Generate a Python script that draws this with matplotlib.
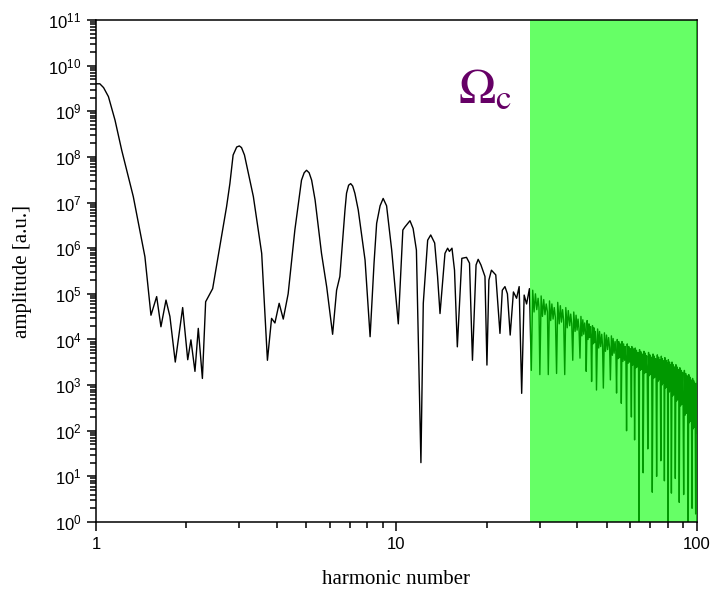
import matplotlib

matplotlib.use("Agg")
import matplotlib.pyplot as plt
from matplotlib.ticker import FuncFormatter, LogLocator, NullFormatter

plt.rcParams["font.family"] = ["Liberation Sans", "DejaVu Sans"]
plt.rcParams["mathtext.fontset"] = "stix"

# spectrum below the cut-off
LOW_H = [1.0, 1.03, 1.06, 1.10, 1.157, 1.218, 1.331, 1.455, 1.524, 1.592,
         1.645, 1.71, 1.762, 1.836, 1.943, 2.02, 2.07, 2.135, 2.19, 2.26,
         2.317, 2.445, 2.72, 2.79, 2.86, 2.94, 3.0, 3.05, 3.12, 3.2,
         3.34, 3.56, 3.72, 3.84, 3.94, 4.07, 4.20, 4.36, 4.59, 4.83,
         4.93, 5.02, 5.12, 5.22, 5.36, 5.63, 5.86, 6.13, 6.32, 6.48,
         6.74, 6.82, 6.93, 7.04, 7.15, 7.27, 7.46, 7.86, 8.17, 8.42,
         8.59, 8.82, 9.03, 9.27, 9.64, 10.14, 10.5, 10.66, 11.09, 11.36,
         11.65, 12.06, 12.28, 12.7, 13.0, 13.4, 13.7, 13.96, 14.5, 14.8,
         15.0, 15.3, 15.6, 15.94, 16.5, 17.1, 17.5, 17.9, 18.4, 18.7,
         19.1, 19.7, 20.0, 20.3, 20.7, 21.4, 22.1, 22.5, 22.96, 23.4,
         23.9, 24.5, 25.1, 25.6, 26.1, 26.6, 27.1, 27.7]
LOW_AMP = [4.0e9, 4.0e9, 3.3e9, 2.1e9, 6.4e8, 1.4e8, 1.35e7, 6.5e5, 3.4e4, 8.7e4,
           1.9e4, 7.3e4, 3.2e4, 3.2e3, 5.0e4, 3.6e3, 9.8e3, 2.0e3, 1.75e4, 1.4e3,
           6.7e4, 1.3e5, 8.1e6, 2.6e7, 1.1e8, 1.65e8, 1.74e8, 1.6e8, 1.1e8, 5e7,
           1.35e7, 7.7e5, 3.5e3, 2.9e4, 2.3e4, 6.2e4, 2.8e4, 1.0e5, 2.5e6, 3.1e7,
           4.5e7, 5.1e7, 4.5e7, 3.1e7, 1.14e7, 7.7e5, 1.4e5, 1.3e4, 1.2e5, 2.4e5,
           6.9e6, 1.6e7, 2.4e7, 2.6e7, 2.3e7, 1.6e7, 6.9e6, 5.5e5, 1.15e4, 4.7e5,
           3.5e6, 8.5e6, 1.23e7, 8.5e6, 9.1e5, 2.2e4, 2.5e6, 2.9e6, 4.0e6, 2.7e6,
           9.1e5, 20, 6.2e4, 1.5e6, 1.95e6, 1.3e6, 2.4e5, 3.7e4, 7.7e5, 1e6,
           8.5e5, 1e6, 3.3e5, 6.9e3, 6e5, 6.3e5, 4.7e5, 3.5e3, 4.3e5, 5.7e5,
           4.3e5, 2.4e5, 2.75e3, 2e5, 3.3e5, 2.6e5, 1.36e4, 1.2e5, 1.44e5, 1e5,
           1.25e4, 1.1e5, 8e4, 1.44e5, 660, 9.4e4, 6e4, 1.3e5]

# spectrum above the cut-off: one row per trough-to-trough period
HIGH_H = [28.1, 28.4, 28.7, 29.0, 29.3, 29.6, 29.8,
          30.0, 30.3, 30.6, 30.9, 31.2, 31.5, 31.8,
          32.0, 32.3, 32.6, 32.9, 33.2, 33.5, 33.8,
          34.1, 34.4, 34.8, 35.1, 35.4, 35.7, 36.0,
          36.3, 36.6, 37.0, 37.3, 37.7, 38.0, 38.3,
          38.6, 38.9, 39.3, 39.6, 39.9, 40.2, 40.5,
          40.8, 41.1, 41.4, 41.7, 42.0, 42.3, 42.6,
          42.8, 43.1, 43.4, 43.7, 43.9, 44.2, 44.4,
          44.6, 44.9, 45.1, 45.4, 45.6, 45.9, 46.1,
          46.3, 46.7, 47.1, 47.4, 47.8, 48.2, 48.5,
          48.8, 49.2, 49.6, 50.0, 50.4, 50.8, 51.2,
          51.5, 51.9, 52.3, 52.6, 53.0, 53.4, 53.7,
          54.0, 54.3, 54.6, 54.9, 55.2, 55.5, 55.8,
          56.0, 56.3, 56.7, 57.0, 57.4, 57.7, 58.0,
          58.3, 58.6, 59.0, 59.3, 59.6, 59.9, 60.2,
          60.5, 60.7, 60.9, 61.1, 61.4, 61.6, 61.8,
          62.0, 62.3, 62.6, 62.9, 63.3, 63.6, 63.9,
          64.1, 64.4, 64.7, 65.0, 65.4, 65.7, 66.0,
          66.2, 66.6, 66.9, 67.3, 67.6, 68.0, 68.3,
          68.6, 69.0, 69.3, 69.7, 70.0, 70.4, 70.7,
          71.0, 71.4, 71.7, 72.1, 72.4, 72.8, 73.1,
          73.4, 73.8, 74.1, 74.5, 74.8, 75.2, 75.5,
          75.8, 76.1, 76.4, 76.7, 77.1, 77.4, 77.7,
          77.9, 78.2, 78.5, 78.8, 79.2, 79.5, 79.8,
          80.0, 80.3, 80.7, 81.0, 81.3, 81.6, 81.9,
          82.2, 82.6, 83.0, 83.3, 83.7, 84.1, 84.4,
          84.7, 85.1, 85.5, 85.8, 86.2, 86.6, 87.0,
          87.3, 87.7, 88.2, 88.6, 89.1, 89.5, 89.9,
          90.3, 90.8, 91.3, 91.7, 92.2, 92.7, 93.1,
          93.5, 93.9, 94.3, 94.7, 95.1, 95.5, 95.9,
          96.3, 96.7, 97.1, 97.5, 97.9, 98.3, 98.7,
          99.0, 99.4, 99.7, 100.0]
HIGH_AMP = [2.1e3, 1.2e5, 4e4, 1e5, 4.5e4, 8e4, 5e4,
            1.7e3, 9e4, 3.2e4, 7.5e4, 3.5e4, 6e4, 4e4,
            1.7e3, 7e4, 2.6e4, 6e4, 2.8e4, 5e4, 3e4,
            1.8e3, 6.5e4, 2.2e4, 5.5e4, 2.4e4, 4.5e4, 2.6e4,
            1.7e3, 5e4, 1.8e4, 4.3e4, 2e4, 3.6e4, 2.2e4,
            3.5e3, 4e4, 1.5e4, 3.4e4, 1.6e4, 2.8e4, 1.7e4,
            3.9e3, 3.2e4, 1.2e4, 2.7e4, 1.3e4, 2.3e4, 1.4e4,
            2.0e3, 2.6e4, 1e4, 2.2e4, 1.1e4, 1.9e4, 1.2e4,
            1.2e3, 2e4, 8e3, 1.8e4, 8.5e3, 1.5e4, 9e3,
            780, 1.7e4, 6.5e3, 1.5e4, 7e3, 1.3e4, 7.5e3,
            860, 1.4e4, 5.5e3, 1.25e4, 6e3, 1.1e4, 6.5e3,
            1.3e3, 1.2e4, 4.5e3, 1.05e4, 5e3, 9e3, 5.5e3,
            670, 1e4, 3.8e3, 9e3, 4e3, 8e3, 4.4e3,
            400, 9e3, 3.3e3, 8e3, 3.5e3, 7e3, 3.8e3,
            100, 8e3, 3e3, 7e3, 3.2e3, 6.3e3, 3.4e3,
            200, 7e3, 2.7e3, 6.5e3, 2.8e3, 5.8e3, 3e3,
            63, 6.5e3, 2.4e3, 5.8e3, 2.5e3, 5.2e3, 2.7e3,
            0.9, 6e3, 2.1e3, 5.4e3, 2.2e3, 4.8e3, 2.4e3,
            12, 5.5e3, 1.8e3, 5e3, 1.9e3, 4.4e3, 2e3,
            40, 5.2e3, 1.6e3, 4.6e3, 1.7e3, 4.1e3, 1.8e3,
            4.5, 4.8e3, 1.4e3, 4.3e3, 1.5e3, 3.8e3, 1.6e3,
            10, 4.6e3, 1.2e3, 4.1e3, 1.3e3, 3.6e3, 1.4e3,
            22, 4.3e3, 1e3, 3.8e3, 1.1e3, 3.4e3, 1.2e3,
            8, 4e3, 850, 3.5e3, 900, 3.1e3, 1e3,
            0.9, 3.6e3, 700, 3.2e3, 750, 2.8e3, 800,
            4.3, 3.2e3, 580, 2.8e3, 620, 2.5e3, 660,
            9, 2.8e3, 450, 2.5e3, 480, 2.2e3, 520,
            2.7, 2.4e3, 350, 2.1e3, 380, 1.9e3, 400,
            4, 2.1e3, 220, 1.8e3, 240, 1.6e3, 260,
            0.9, 1.7e3, 150, 1.5e3, 160, 1.3e3, 170,
            2, 1.4e3, 110, 1.25e3, 120, 1.1e3, 130,
            1.5, 1.1e3, 90, 900]

CUTOFF = 27.8
X_LIM = (1, 100)
Y_LIM = (1, 1e11)
X_TICKS = [1, 10, 100]

fig = plt.figure(figsize=(7.12, 5.92), dpi=100)
ax = fig.add_axes([0.1348, 0.1182, 0.8441, 0.848])

ax.plot(LOW_H + HIGH_H, LOW_AMP + HIGH_AMP, color="black", lw=1.0, zorder=2)
ax.axvspan(CUTOFF, X_LIM[1], color=(0.0, 1.0, 0.0), alpha=0.6, lw=0, zorder=3)

ax.set_xscale("log")
ax.set_yscale("log")
ax.set_xlim(*X_LIM)
ax.set_ylim(*Y_LIM)

ax.set_xticks(X_TICKS)
ax.xaxis.set_major_formatter(FuncFormatter(lambda v, _: f"{v:g}"))
ax.xaxis.set_minor_locator(LogLocator(base=10, subs=range(2, 10), numticks=10))
ax.xaxis.set_minor_formatter(NullFormatter())
ax.yaxis.set_major_locator(LogLocator(base=10, numticks=15))
ax.yaxis.set_minor_locator(LogLocator(base=10, subs=range(2, 10), numticks=15))
ax.yaxis.set_minor_formatter(NullFormatter())

ax.tick_params(which="both", direction="out", top=False, right=False,
               width=1.1, labelsize=12, pad=4)
ax.tick_params(which="major", length=6.5)
ax.tick_params(which="minor", length=4)

for name in ("top", "bottom", "left"):
    ax.spines[name].set_zorder(4)
for sp in ax.spines.values():
    sp.set_linewidth(1.1)

ax.set_xlabel("harmonic number", family="Liberation Serif", fontsize=15)
ax.set_ylabel("amplitude [a.u.]", family="Liberation Serif", fontsize=15)
ax.xaxis.set_label_coords(0.5, -0.095)
ax.yaxis.set_label_coords(-0.107, 0.5)

ax.text(16.0, 1.6e9, r"$\Omega_\mathrm{c}$", color="#660066", fontsize=36,
        ha="left", va="baseline", zorder=5)

fig.savefig("out.png", dpi=100)
